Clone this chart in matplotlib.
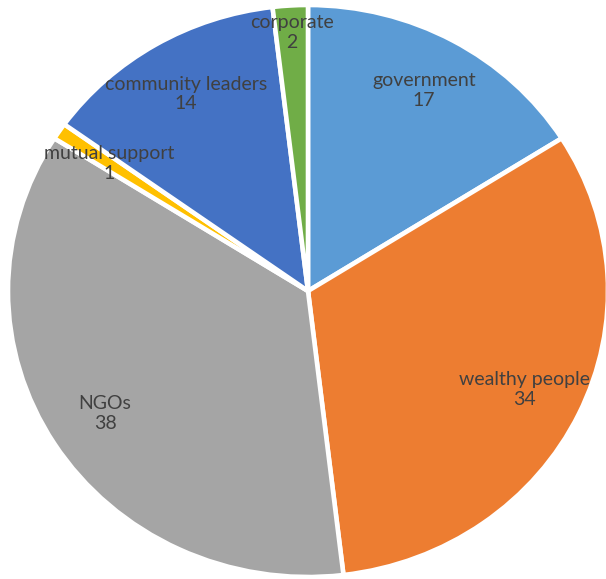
import numpy as np
import matplotlib
matplotlib.use("Agg")
import matplotlib.pyplot as plt

categories = ["government", "wealthy people", "NGOs", "mutual support", "community leaders", "corporate"]
values = [17, 34, 38, 1, 14, 2]
colors = ["#5B9BD5", "#ED7D31", "#A5A5A5", "#FFC000", "#4472C4", "#70AD47"]
label_r = [0.80, 0.80, 0.80, 0.80, 0.80, 0.905]

W, H = 606, 579
fig = plt.figure(figsize=(W / 100, H / 100), dpi=100)
cx, cy, rx, ry = 308, 291, 300, 286
ax = fig.add_axes([(cx - rx) / W, (H - (cy + ry)) / H, 2 * rx / W, 2 * ry / H])

wedges, _ = ax.pie(values, colors=colors, startangle=90, counterclock=False,
                   wedgeprops=dict(edgecolor="white", linewidth=3.3, joinstyle="miter"))
ax.set_aspect("auto")
ax.set_xlim(-1, 1)
ax.set_ylim(-1, 1)
ax.axis("off")

for w, cat, v, r in zip(wedges, categories, values, label_r):
    th = np.deg2rad((w.theta1 + w.theta2) / 2)
    ax.text(r * np.cos(th), r * np.sin(th), f"{cat}\n{v}", ha="center", va="center",
            fontsize=14, family=["Lato", "DejaVu Sans"], color="#404040", linespacing=1.2)

fig.savefig("out.png", dpi=100)
